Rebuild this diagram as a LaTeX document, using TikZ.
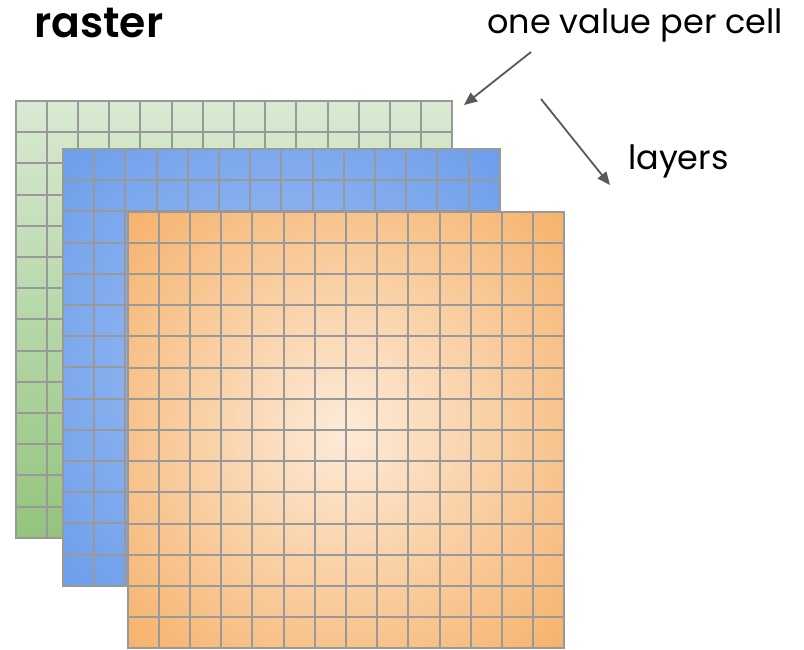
\documentclass[tikz,border=0pt]{standalone}
\usepackage{fontspec}
\setmainfont{Poppins}[BoldFont={* SemiBold}]
\usetikzlibrary{arrows.meta}
\definecolor{gridgray}{HTML}{999999}
\definecolor{arrowgray}{HTML}{595959}
\definecolor{greenlight}{HTML}{D9EAD3}
\definecolor{greendark}{HTML}{93C47D}
\definecolor{bluelight}{HTML}{A4C2F4}
\definecolor{bluedark}{HTML}{6D9EEB}
\definecolor{orangelight}{HTML}{FDEBD9}
\definecolor{orangedark}{HTML}{F6B26B}
% radial fills that reach the outer colour only at the corners
\pgfdeclareradialshading{blueglow}{\pgfpoint{0bp}{0bp}}{%
  color(0bp)=(bluelight); color(35.4bp)=(bluedark); color(50bp)=(bluedark)}
\pgfdeclareradialshading{orangeglow}{\pgfpoint{0bp}{0bp}}{%
  color(0bp)=(orangelight); color(35.4bp)=(orangedark); color(50bp)=(orangedark)}
\tikzset{
  gridline/.style={draw=gridgray, line width=2pt},
  pointer/.style={draw=arrowgray, line width=1.8pt,
    -{Triangle[length=13pt,width=11pt]}},
  label/.style={inner sep=0pt, anchor=base west, text=black}
}
% one 14x14 layer: origin x, origin y, cell size, shading options
\newcommand{\rasterlayer}[4]{%
  \pgfmathsetmacro{\lx}{#1}\pgfmathsetmacro{\ly}{#2}%
  \pgfmathsetmacro{\lw}{14*#3}%
  \shade[#4] (\lx,\ly) rectangle ++(\lw,\lw);
  \foreach \k in {1,...,13}{
    \draw[gridline] (\lx+\k*#3,\ly) -- ++(0,\lw);
    \draw[gridline] (\lx,\ly+\k*#3) -- ++(\lw,0);
  }
  \draw[gridline] (\lx,\ly) rectangle ++(\lw,\lw);
}
\begin{document}
\begin{tikzpicture}[x=1pt,y=-1pt]
  \useasboundingbox (0,0) rectangle (804,649);
  \fill[white] (0,0) rectangle (804,649);

  % three stacked layers, back to front
  \rasterlayer{15.5}{101}{31.2}{top color=greenlight, bottom color=greendark}
  \rasterlayer{63}{149}{31.2}{shading=blueglow}
  \rasterlayer{127.5}{211.5}{31.2}{shading=orangeglow}

  % labels
  \node[label, font=\bfseries\fontsize{42.5}{50}\selectfont] (title) at (34,37) {raster};
  \node[label, font=\fontsize{33.5}{40}\selectfont] (cellnote) at (487,33) {one value per cell};
  \node[label, font=\fontsize{33.5}{40}\selectfont] (layernote) at (628,169) {layers};

  % pointers
  \coordinate (cellfrom) at (531,52);
  \coordinate (cellto) at (464,105);
  \coordinate (layerfrom) at (541,99);
  \coordinate (layerto) at (610,185);
  \draw[pointer] (cellfrom) -- (cellto);
  \draw[pointer] (layerfrom) -- (layerto);
\end{tikzpicture}
\end{document}
